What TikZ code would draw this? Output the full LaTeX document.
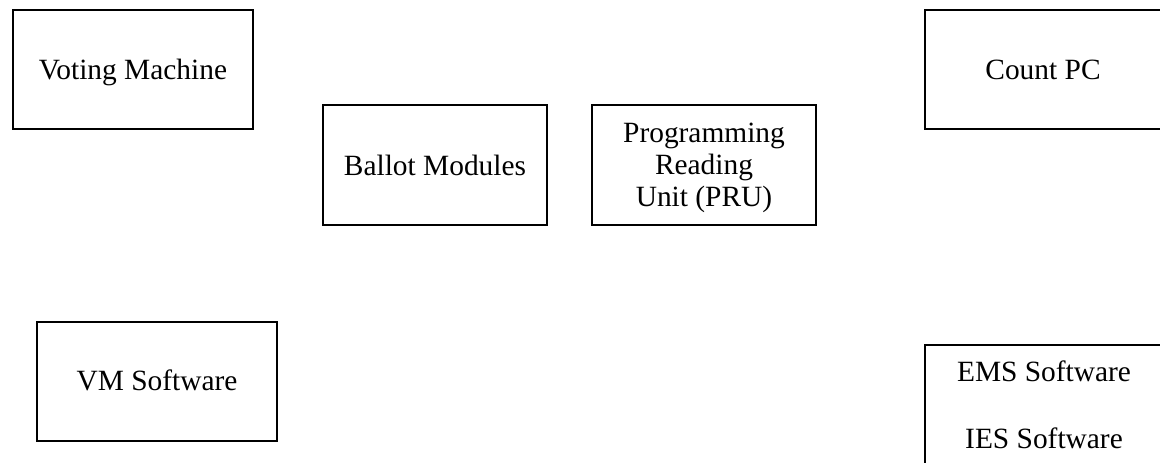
\documentclass[tikz,border=0pt]{standalone}
\usepackage{fontspec}
\setmainfont{Liberation Serif}
\begin{document}
\begin{tikzpicture}[x=0.5pt,y=-0.5pt,
  unit/.style={draw=black,line width=1pt,fill=white},
  lbl/.style={font=\fontsize{14.7}{16.2}\selectfont,align=center,inner sep=0pt,anchor=base}]
\useasboundingbox (0,0) rectangle (1160,462);
\clip (0,0) rectangle (1160,462);
% hardware and software units, drawn as plain frames
\draw[unit] (13,10) rectangle (253,129);
\node[lbl] (vm) at (133,79) {Voting Machine};
\draw[unit] (323,105) rectangle (547,225);
\node[lbl] (bm) at (435,175) {Ballot Modules};
\draw[unit] (592,105) rectangle (816,225);
\node[lbl] (pru1) at (704,142.5) {Programming};
\node[lbl] (pru2) at (704,174.5) {Reading};
\node[lbl] (pru3) at (704,206.5) {Unit (PRU)};
\draw[unit] (925,10) rectangle (1180,129);
\node[lbl] (pc) at (1043,79) {Count PC};
\draw[unit] (37,322) rectangle (277,441);
\node[lbl] (vms) at (157,390.5) {VM Software};
\draw[unit] (925,345) rectangle (1180,480);
\node[lbl] (ems) at (1044,381.5) {EMS Software};
\node[lbl] (ies) at (1044,448) {IES Software};
\end{tikzpicture}
\end{document}
